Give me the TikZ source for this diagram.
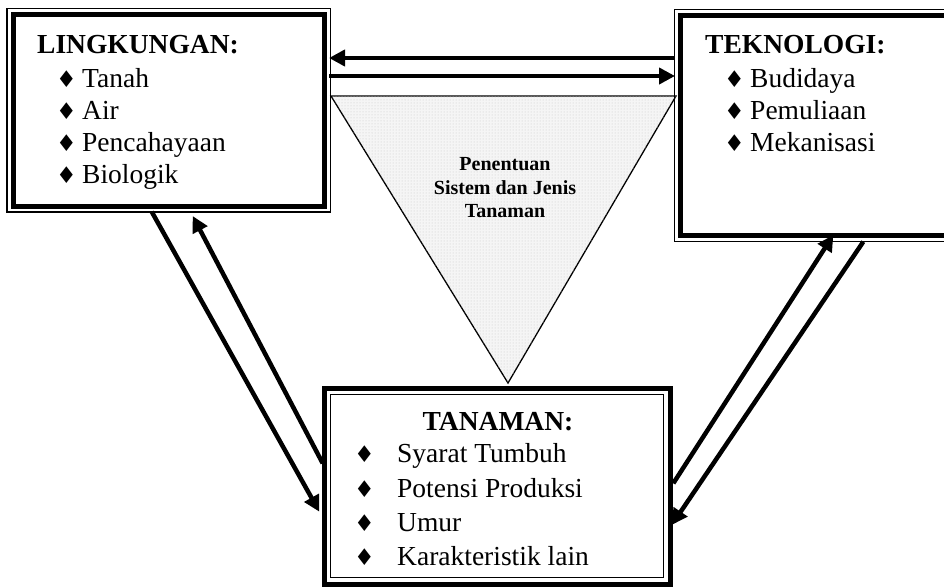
\documentclass[tikz,border=0pt]{standalone}
\usepackage{fontspec}
\setmainfont{Liberation Serif}
\newfontfamily\symfnt{DejaVu Sans}
\usetikzlibrary{arrows.meta,patterns,calc}
\newcommand\diabul[1]{\makebox[#1][l]{{\symfnt\fontsize{23}{23}\selectfont ♦}}}
\begin{document}
\begin{tikzpicture}[x=1pt,y=-1pt,
  thickbox/.style={draw, line width=5pt, outer sep=0pt, inner sep=0pt},
  thinline/.style={draw, line width=1.2pt},
  arr/.style={line width=4.5pt, -{Triangle[length=16pt,width=16pt]}},
  headtext/.style={font=\fontsize{27.5}{32}\selectfont\bfseries, inner sep=0pt},
  itemtext/.style={font=\fontsize{27.5}{32}\selectfont, inner sep=0pt},
  tritext/.style={font=\fontsize{20}{23.5}\selectfont\bfseries, align=center, inner sep=0pt}
]
\useasboundingbox (0,0) rectangle (944,586);
\fill[white] (0,0) rectangle (944,586);

% triangle
\path[draw, line width=1.3pt, fill=gray!8, postaction={pattern=dots, pattern color=gray!45}]
  (331,96) -- (676,96) -- (508,383) -- cycle;
\node[tritext] (T) at (505,188) {Penentuan\\Sistem dan Jenis\\Tanaman};

% boxes
\node[thickbox, minimum width=311.5pt, minimum height=191.5pt] (L) at (168.75,110.25) {};
\draw[thinline] ([shift={(-6,-6)}]L.north west) rectangle ([shift={(6,6)}]L.south east);

\node[thickbox, minimum width=279.5pt, minimum height=220pt] (R) at (820.25,125.5) {};
\draw[thinline] ([shift={(-6,-6)}]R.north west) rectangle ([shift={(6,6)}]R.south east);

\node[thickbox, minimum width=346pt, minimum height=196pt] (B) at (497,486) {};
\draw[thinline] ([shift={(6.5,6.5)}]B.north west) rectangle ([shift={(-6.5,-6.5)}]B.south east);

% texts left
\node[headtext, anchor=base west] (Lh) at (37,53) {LINGKUNGAN:};
\node[itemtext, anchor=base west] (L1) at (56,87) {\diabul{26pt}Tanah};
\node[itemtext, anchor=base west] (L2) at (56,119) {\diabul{26pt}Air};
\node[itemtext, anchor=base west] (L3) at (56,151) {\diabul{26pt}Pencahayaan};
\node[itemtext, anchor=base west] (L4) at (56,183) {\diabul{26pt}Biologik};

% texts right
\node[headtext, anchor=base west] (Rh) at (705,53) {TEKNOLOGI:};
\node[itemtext, anchor=base west] (R1) at (724,87) {\diabul{26pt}Budidaya};
\node[itemtext, anchor=base west] (R2) at (724,119) {\diabul{26pt}Pemuliaan};
\node[itemtext, anchor=base west] (R3) at (724,151) {\diabul{26pt}Mekanisasi};

% texts bottom
\node[headtext, anchor=base] (Bh) at (498,430) {TANAMAN:};
\node[itemtext, anchor=base west] (B1) at (354,462) {\diabul{43pt}Syarat Tumbuh};
\node[itemtext, anchor=base west] (B2) at (354,497) {\diabul{43pt}Potensi Produksi};
\node[itemtext, anchor=base west] (B3) at (354,531) {\diabul{43pt}Umur};
\node[itemtext, anchor=base west] (B4) at (354,565) {\diabul{43pt}Karakteristik lain};

% connectors top
\draw[arr] ([shift={(-5.5,42.5)}]R.north west) -- ([shift={(4.5,43.5)}]L.north east);
\draw[arr] ([shift={(4.5,61.5)}]L.north east) -- ([shift={(-5.5,60.5)}]R.north west);

% connectors left
\draw[arr] ([shift={(138.7,5.7)}]L.south west) -- ([shift={(-4.7,123.7)}]B.north west);
\draw[arr] ([shift={(-1.3,75.3)}]B.north west) -- ([shift={(179.7,10)}]L.south west);

% connectors right
\draw[arr] ([shift={(3.3,95.3)}]B.north east) -- ([shift={(152.8,-0.5)}]R.south west);
\draw[arr] ([shift={(182.8,6.2)}]R.south west) -- ([shift={(1.7,137)}]B.north east);
\end{tikzpicture}
\end{document}
